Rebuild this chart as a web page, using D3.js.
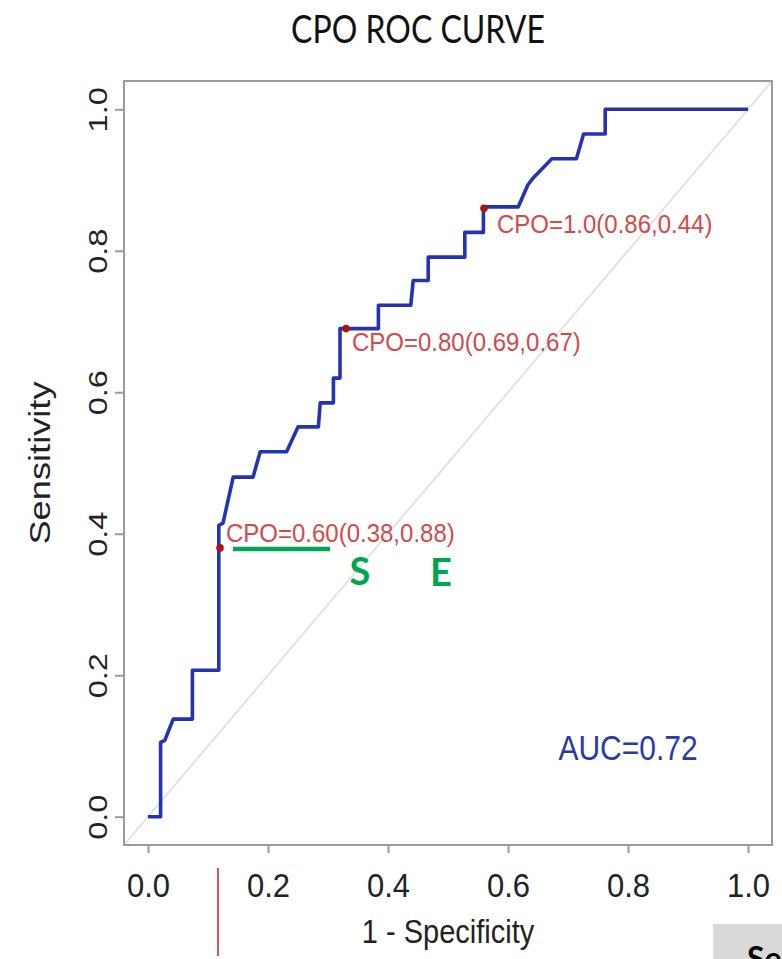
<!DOCTYPE html>
<html>
<head>
<meta charset="utf-8">
<script src="https://cdn.jsdelivr.net/npm/d3@7"></script>
<style>
  html, body { margin: 0; padding: 0; background: #fff; }
  svg { display: block; }
</style>
</head>
<body>
<svg id="chart" width="782" height="959"></svg>
<script>
// ---------- data ----------
const chartTitle = "CPO ROC CURVE";
const xLabel = "1 - Specificity";
const yLabel = "Sensitivity";
const tickValues = [0, 0.2, 0.4, 0.6, 0.8, 1.0];
const tickLabels = ["0.0", "0.2", "0.4", "0.6", "0.8", "1.0"];

// ROC curve vertices (1 - specificity, sensitivity)
const rocFpr = [0, 0.021, 0.021, 0.028, 0.042, 0.074, 0.074, 0.118, 0.118, 0.125, 0.142, 0.175, 0.187, 0.231, 0.25, 0.284, 0.287, 0.309, 0.309, 0.32, 0.32, 0.384, 0.384, 0.438, 0.442, 0.467, 0.467, 0.528, 0.528, 0.559, 0.559, 0.617, 0.633, 0.642, 0.673, 0.714, 0.726, 0.762, 0.762, 1.0];
const rocTpr = [0, 0, 0.105, 0.108, 0.138, 0.138, 0.207, 0.207, 0.412, 0.415, 0.48, 0.48, 0.516, 0.516, 0.551, 0.551, 0.585, 0.585, 0.62, 0.62, 0.69, 0.69, 0.723, 0.723, 0.758, 0.758, 0.791, 0.791, 0.826, 0.826, 0.862, 0.862, 0.893, 0.903, 0.93, 0.93, 0.965, 0.965, 1.0, 1.0];

// Cut points
const cpoLabels = ["CPO=0.60(0.38,0.88)", "CPO=0.80(0.69,0.67)", "CPO=1.0(0.86,0.44)"];
const cpoSens = [0.38, 0.69, 0.86];
const cpoSpec = [0.88, 0.67, 0.44];

const aucText = "AUC=0.72";
const annotLetters = ["S", "E"];
const cornerText = "Se";

// ---------- layout ----------
const svg = d3.select("#chart");
const x = d3.scaleLinear().domain([-0.04, 1.04]).range([124, 772]);
const y = d3.scaleLinear().domain([-0.04, 1.04]).range([845, 81]);

const ARIAL = "'Liberation Sans', Arial, Helvetica, sans-serif";
const CAL = "Lato, 'Open Sans', sans-serif";

// clip
svg.append("clipPath").attr("id", "plotclip")
  .append("rect").attr("x", x(-0.04)).attr("y", y(1.04))
  .attr("width", x(1.04) - x(-0.04)).attr("height", y(-0.04) - y(1.04));

// diagonal reference
svg.append("line")
  .attr("clip-path", "url(#plotclip)")
  .attr("x1", x(-0.04)).attr("y1", y(-0.04))
  .attr("x2", x(1.04)).attr("y2", y(1.04))
  .attr("stroke", "#e2e2e2").attr("stroke-width", 2);

// ROC curve
const rocData = rocFpr.map((f, i) => [f, rocTpr[i]]);
svg.append("path")
  .datum(rocData)
  .attr("d", d3.line().x(d => x(d[0])).y(d => y(d[1])))
  .attr("fill", "none")
  .attr("stroke", "#2433b4")
  .attr("stroke-width", 3.6)
  .attr("stroke-linejoin", "round");

// box
svg.append("rect")
  .attr("x", x(-0.04)).attr("y", y(1.04))
  .attr("width", x(1.04) - x(-0.04)).attr("height", y(-0.04) - y(1.04))
  .attr("fill", "none").attr("stroke", "#9a9a9a").attr("stroke-width", 2);

// x axis
const xAxis = d3.axisBottom(x).tickValues(tickValues).tickFormat((d, i) => tickLabels[i]).tickSizeOuter(0).tickSize(8);
const gx = svg.append("g").attr("transform", `translate(0,${y(-0.04)})`).call(xAxis);
gx.select(".domain").remove();
gx.selectAll(".tick line").attr("stroke", "#9a9a9a").attr("stroke-width", 2);
gx.selectAll(".tick text")
  .attr("font-family", ARIAL).attr("font-size", 31).attr("fill", "#222")
  .attr("y", 0).attr("dy", 0)
  .attr("transform", "translate(0,52) scale(1,1.1)");

// y axis
const yAxis = d3.axisLeft(y).tickValues(tickValues).tickFormat((d, i) => tickLabels[i]).tickSizeOuter(0).tickSize(9);
const gy = svg.append("g").attr("transform", `translate(${x(-0.04)},0)`).call(yAxis);
gy.select(".domain").remove();
gy.selectAll(".tick line").attr("stroke", "#9a9a9a").attr("stroke-width", 2);
gy.selectAll(".tick text")
  .attr("font-family", ARIAL).attr("font-size", 26).attr("fill", "#222")
  .attr("x", 0).attr("dy", 0).attr("text-anchor", "middle")
  .attr("transform", "translate(-17,0) scale(1,1.25) rotate(-90)");

// title
svg.append("text")
  .attr("transform", "translate(418,43) scale(1,1.2)")
  .attr("text-anchor", "middle")
  .attr("font-family", CAL).attr("font-size", 32).attr("fill", "#111")
  .text(chartTitle);

// axis labels
svg.append("text")
  .attr("transform", "translate(448,943) scale(1,1.15)")
  .attr("text-anchor", "middle")
  .attr("font-family", ARIAL).attr("font-size", 29).attr("fill", "#222")
  .text(xLabel);
svg.append("text")
  .attr("transform", "translate(50,463) scale(1,1.25) rotate(-90)")
  .attr("text-anchor", "middle")
  .attr("font-family", ARIAL).attr("font-size", 29).attr("fill", "#222")
  .text(yLabel);

// cut points
const labelDy = [-6, 22, 25];
const labelDx = [6, 6, 13];
cpoLabels.forEach((lab, i) => {
  const px = x(1 - cpoSpec[i]), py = y(cpoSens[i]);
  svg.append("circle").attr("cx", px).attr("cy", py).attr("r", 3.8).attr("fill", "#a81414");
  svg.append("text")
    .attr("transform", `translate(${px + labelDx[i]},${py + labelDy[i]}) scale(1,1.1)`)
    .attr("font-family", ARIAL).attr("font-size", 24).attr("fill", "#d24a4a")
    .text(lab);
});

// AUC
svg.append("text")
  .attr("transform", `translate(${x(0.8)},${y(0.08)}) scale(1,1.15)`)
  .attr("text-anchor", "middle")
  .attr("font-family", ARIAL).attr("font-size", 30).attr("fill", "#2a3aa8")
  .text(aucText);

// green annotations
svg.append("line")
  .attr("x1", 233).attr("x2", 330).attr("y1", 549).attr("y2", 549)
  .attr("stroke", "#00a651").attr("stroke-width", 4.5);
svg.append("text").attr("x", 360).attr("y", 585).attr("text-anchor", "middle")
  .attr("font-family", CAL).attr("font-weight", "bold").attr("font-size", 38).attr("fill", "#00a651")
  .text(annotLetters[0]);
svg.append("text").attr("x", 441).attr("y", 586).attr("text-anchor", "middle")
  .attr("font-family", CAL).attr("font-weight", "bold").attr("font-size", 38).attr("fill", "#00a651")
  .text(annotLetters[1]);

// red vertical marker
svg.append("line")
  .attr("x1", 218).attr("x2", 218).attr("y1", 868).attr("y2", 956)
  .attr("stroke", "#c81e1e").attr("stroke-width", 1.5);

// grey corner box
svg.append("rect").attr("x", 713).attr("y", 924).attr("width", 69).attr("height", 35).attr("fill", "#d9d9d9");
svg.append("text").attr("x", 747).attr("y", 970)
  .attr("font-family", CAL).attr("font-weight", "bold").attr("font-size", 32).attr("fill", "#000")
  .text(cornerText);
</script>
</body>
</html>
